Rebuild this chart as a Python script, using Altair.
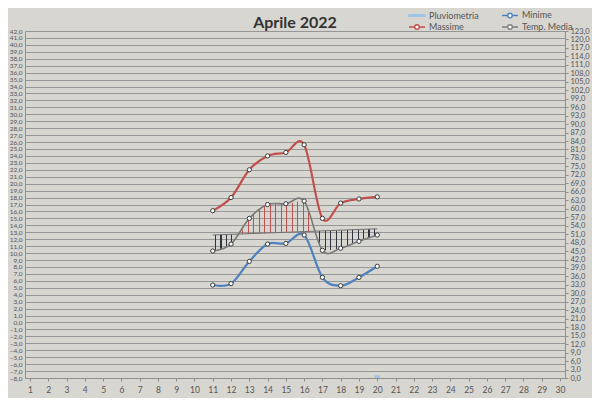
import altair as alt
import pandas as pd
import numpy as np

# ---- data ----
giorni = [11, 12, 13, 14, 15, 16, 17, 18, 19, 20]
massime = [16.1, 18.0, 22.0, 24.0, 24.5, 25.6, 15.0, 17.2, 17.8, 18.1]
minime = [5.4, 5.6, 8.8, 11.3, 11.4, 12.6, 6.5, 5.3, 6.5, 8.1]
media = [10.3, 11.3, 15.0, 17.0, 17.1, 17.5, 10.4, 10.7, 11.7, 12.6]
riferimento = [12.6, 12.7, 12.8, 12.9, 13.0, 13.1, 13.2, 13.3, 13.4, 13.5]
pioggia = [0, 0, 0, 0, 0, 0, 0, 0, 0, 1.0]

asse_giorni = list(range(1, 31))
tick_sx = list(range(-8, 43))
tick_dx = list(range(0, 124, 3))
# legend is filled column by column: (Pluviometria, Massime) | (Minime, Temp. Media)
serie_legenda = ["Pluviometria", "Massime", "Minime", "Temp. Media"]
colori_legenda = ["#9dc3e6", "#c0504d", "#4f81bd", "#7f7f7f"]

FONT = "Lato"
GRID = "#8f8f8f"
TXT = "#555555"

# ---- tables ----
linee = pd.DataFrame({
    "g": giorni * 3,
    "v": massime + minime + media,
    "serie": ["Massime"] * 10 + ["Minime"] * 10 + ["Temp. Media"] * 10,
})
base = pd.DataFrame({"g": giorni, "media": media, "ref": riferimento, "mm": pioggia})

# area between media and reference, split where the two read series cross
g_a, m_a, r_a = [], [], []
for i in range(len(giorni)):
    g_a.append(giorni[i]); m_a.append(media[i]); r_a.append(riferimento[i])
    if i < len(giorni) - 1:
        d0 = media[i] - riferimento[i]
        d1 = media[i + 1] - riferimento[i + 1]
        if d0 * d1 < 0:
            t = d0 / (d0 - d1)
            yr = riferimento[i] + t * (riferimento[i + 1] - riferimento[i])
            g_a.append(giorni[i] + t); m_a.append(yr); r_a.append(yr)
aree = pd.DataFrame({"g": g_a, "media": m_a, "ref": r_a})
aree["sopra"] = np.maximum(aree["media"], aree["ref"])
aree["sotto"] = np.minimum(aree["media"], aree["ref"])


def tratteggio(colore, n=30, w=0.0065):
    tr = "rgba(0,0,0,0)"
    stops = [alt.GradientStop(color=tr, offset=0)]
    for k in range(n):
        c = (k + 0.5) / n
        stops += [
            alt.GradientStop(color=tr, offset=c - w / 2),
            alt.GradientStop(color=colore, offset=c - w / 2),
            alt.GradientStop(color=colore, offset=c + w / 2),
            alt.GradientStop(color=tr, offset=c + w / 2),
        ]
    stops.append(alt.GradientStop(color=tr, offset=1))
    return alt.Gradient(gradient="linear", stops=stops, x1=0, x2=1, y1=0, y2=0)


lab_it = "replace(format(datum.value, '.1f'), '.', ',')"

x_enc = alt.X(
    "g:Q",
    scale=alt.Scale(domain=[1, 30], nice=False, zero=False),
    axis=alt.Axis(values=asse_giorni, format="d", grid=False, ticks=True, tickSize=3,
                  tickColor=GRID, domainColor=GRID, labelFont=FONT, labelFontSize=8.5,
                  labelColor=TXT, labelPadding=4, title=None),
    title=None,
)
y_scale = alt.Scale(domain=[-8, 42], nice=False, zero=False)
y_axis = alt.Axis(orient="left", values=tick_sx, labelExpr=lab_it, grid=True, gridColor=GRID,
                  gridWidth=0.9, domain=True, domainColor=GRID, ticks=False, labelFont=FONT,
                  labelFontSize=6.5, labelColor=TXT, labelPadding=3, labelOverlap=False,
                  labelBound=False, title=None)


def y_enc(field):
    return alt.Y(field, scale=y_scale, axis=y_axis, title=None)


area_rossa = alt.Chart(aree).mark_area(interpolate="monotone", fill=tratteggio("#c0504d")).encode(
    x=x_enc, y=y_enc("sopra:Q"), y2=alt.Y2("ref:Q"))
area_nera = alt.Chart(aree).mark_area(interpolate="monotone", fill=tratteggio("#2f3440")).encode(
    x=x_enc, y=y_enc("ref:Q"), y2=alt.Y2("sotto:Q"))
linea_ref = alt.Chart(base).mark_line(color="#707070", strokeWidth=1).encode(
    x=x_enc, y=y_enc("ref:Q"))

strati = [area_rossa, area_nera, linea_ref]
for nome, col, sw in [("Massime", "#c0504d", 2.2), ("Minime", "#4f81bd", 2.2), ("Temp. Media", "#7a7a7a", 1.6)]:
    strati.append(
        alt.Chart(linee).transform_filter(alt.datum.serie == nome)
        .mark_line(interpolate="cardinal", color=col, strokeWidth=sw)
        .encode(x=x_enc, y=y_enc("v:Q"))
    )
strati.append(
    alt.Chart(linee).mark_point(shape="circle", filled=True, fill="white", stroke="#3a3a3a",
                                strokeWidth=1, size=18, opacity=1)
    .encode(x=x_enc, y=y_enc("v:Q"))
)

forma_linea = "M-1.6,0L-0.45,0M0.45,0L1.6,0M0.45,0A0.45,0.45,0,1,1,-0.45,0A0.45,0.45,0,1,1,0.45,0"
forma_barra = "M-1.6,-0.15L1.6,-0.15L1.6,0.15L-1.6,0.15Z"
forme = [forma_barra, forma_linea, forma_linea, forma_linea]

leg = alt.Legend(title=None, orient="none", legendX=386, legendY=-22, columns=2,
                 symbolSize=100, symbolStrokeWidth=1.4, symbolFillColor="white",
                 labelFont=FONT, labelFontSize=9, labelColor=TXT, labelOffset=6,
                 rowPadding=0, columnPadding=20, padding=0)

legenda = (
    alt.Chart(pd.DataFrame({"serie": serie_legenda}))
    .transform_filter("false")
    .mark_point(filled=True, fill="white", strokeWidth=1.4, opacity=1)
    .encode(
        stroke=alt.Stroke("serie:N", scale=alt.Scale(domain=serie_legenda, range=colori_legenda), legend=leg),
        shape=alt.Shape("serie:N", scale=alt.Scale(domain=serie_legenda, range=forme), legend=leg),
    )
)
strati.append(legenda)

temperature = alt.layer(*strati)

pluvio = alt.Chart(base).mark_bar(color="#9dc3e6", size=5).encode(
    x=x_enc,
    y=alt.Y("mm:Q", scale=alt.Scale(domain=[0, 123], nice=False, zero=True),
            axis=alt.Axis(orient="right", values=tick_dx, labelExpr=lab_it, grid=False,
                          domain=True, domainColor=GRID, ticks=True, tickSize=3, tickColor=GRID,
                          labelFont=FONT, labelFontSize=7.5, labelColor=TXT, labelPadding=2,
                          labelOverlap=False, labelBound=False, title=None),
            title=None),
)

chart = (
    alt.layer(temperature, pluvio)
    .resolve_scale(y="independent")
    .properties(
        width=540, height=347,
        title=alt.TitleParams("Aprile 2022", font=FONT, fontSize=16, fontWeight="bold",
                              color="#333333", anchor="middle", offset=-22),
        autosize=alt.AutoSizeParams(type="none"),
        padding={"left": 17, "top": 23, "right": 27, "bottom": 20},
        background="#d8d6d1",
    )
    .configure_view(stroke=None)
)

chart.save("out.html", embed_options={"renderer": "svg", "actions": False})
